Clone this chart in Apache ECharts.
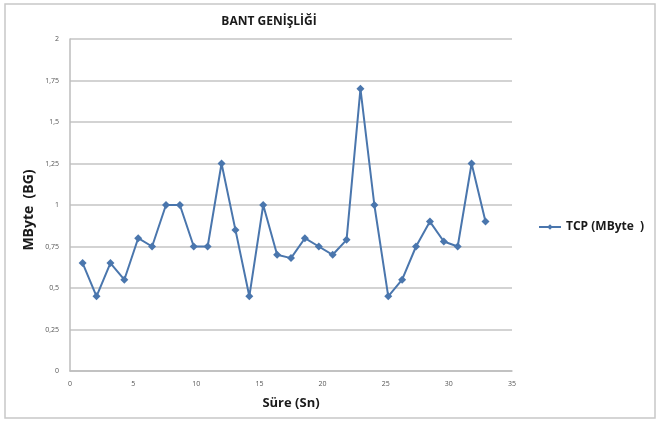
<!DOCTYPE html>
<html>
<head>
<meta charset="utf-8">
<script src="https://cdn.jsdelivr.net/npm/echarts@6/dist/echarts.min.js"></script>
<style>
  html, body { margin: 0; padding: 0; background: #fff; }
  #chart { width: 656px; height: 421px; }
</style>
</head>
<body>
<div id="chart"></div>
<script>
// Measurement times (seconds)
const sure = [1, 2.1, 3.2, 4.3, 5.4, 6.5, 7.6, 8.7, 9.8, 10.9, 12, 13.1, 14.2, 15.3, 16.4,
              17.5, 18.6, 19.7, 20.8, 21.9, 23, 24.1, 25.2, 26.3, 27.4, 28.5, 29.6, 30.7, 31.8, 32.9];
// TCP bandwidth (MByte)
const tcp = [0.65, 0.45, 0.65, 0.55, 0.8, 0.75, 1.0, 1.0, 0.75, 0.75, 1.25, 0.85, 0.45, 1.0, 0.7,
             0.68, 0.8, 0.75, 0.7, 0.79, 1.7, 1.0, 0.45, 0.55, 0.75, 0.9, 0.78, 0.75, 1.25, 0.9];
const seriesName = 'TCP (MByte  )';
const titleText = 'BANT GENİŞLİĞİ';
const xName = 'Süre (Sn)';
const yName = 'MByte  (BG)';

const points = sure.map((x, i) => [x, tcp[i]]);
const font = '"Open Sans", "Liberation Sans", sans-serif';
const lineColor = '#4a76ad';

const chart = echarts.init(document.getElementById('chart'), null, { renderer: 'canvas' });
chart.setOption({
  backgroundColor: '#fff',
  animation: false,
  title: {
    text: titleText,
    left: 264, top: 11, textAlign: 'center',
    textStyle: { fontFamily: font, fontSize: 12, fontWeight: 'bold', color: '#1a1a1a' }
  },
  graphic: [
    {
      type: 'rect', silent: true,
      shape: { x: 5, y: 4, width: 650, height: 414 },
      style: { fill: null, stroke: '#c8c8c8', lineWidth: 1.5 }
    },
    {
      type: 'text', silent: true,
      x: 29, y: 210, rotation: Math.PI / 2,
      style: {
        text: yName, fontFamily: font, fontSize: 14, fontWeight: 'bold',
        fill: '#1a1a1a', align: 'center', verticalAlign: 'middle'
      }
    }
  ],
  legend: {
    left: 533, top: 216,
    itemWidth: 22, itemHeight: 7, itemGap: 4,
    textStyle: { fontFamily: font, fontSize: 12, fontWeight: 'bold', color: '#1a1a1a' },
    data: [seriesName]
  },
  grid: { left: 70, right: 144, top: 39, bottom: 50 },
  xAxis: {
    type: 'value', min: 0, max: 35, interval: 5,
    name: xName, nameLocation: 'middle', nameGap: 26,
    nameTextStyle: { fontFamily: font, fontSize: 13, fontWeight: 'bold', color: '#1a1a1a' },
    axisLine: { show: true, lineStyle: { color: '#bdbdbd', width: 1.5 } },
    axisTick: { show: false },
    splitLine: { show: false },
    axisLabel: { fontFamily: font, fontSize: 7, color: '#555', margin: 9 }
  },
  yAxis: {
    type: 'value', min: 0, max: 2, interval: 0.25,
    axisLine: { show: true, lineStyle: { color: '#bdbdbd', width: 1.5 } },
    axisTick: { show: false },
    splitLine: { show: true, lineStyle: { color: '#c4c4c4', width: 1.5 } },
    axisLabel: {
      fontFamily: font, fontSize: 7, color: '#555', margin: 11,
      formatter: v => String(v).replace('.', ',')
    }
  },
  series: [{
    name: seriesName,
    type: 'line',
    data: points,
    symbol: 'diamond',
    symbolSize: 8,
    lineStyle: { color: lineColor, width: 2 },
    itemStyle: { color: lineColor }
  }]
});
</script>
</body>
</html>
